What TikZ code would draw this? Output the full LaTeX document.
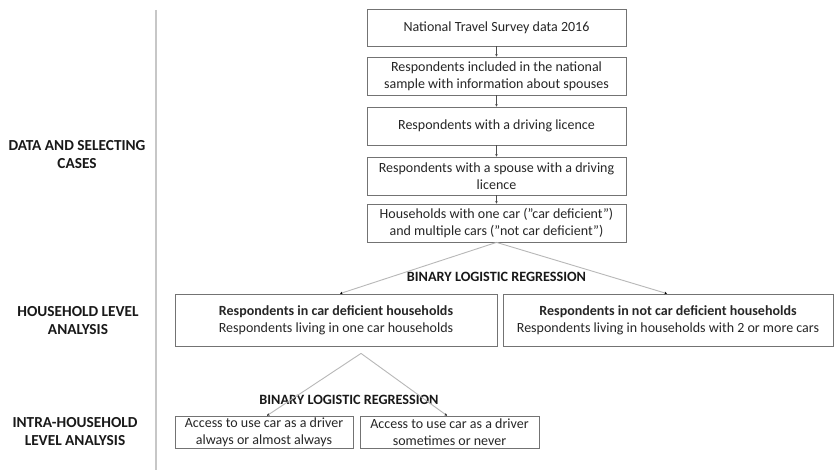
\documentclass[tikz,border=0pt]{standalone}
\usepackage{fontspec}
\setmainfont{Carlito}
\usetikzlibrary{arrows.meta}
\begin{document}
\begin{tikzpicture}[x=1pt,y=-1pt,
 box/.style={draw=black!55,line width=0.8pt,align=center,inner sep=1pt,font=\fontsize{14}{17}\selectfont,text=black!85},
 lab/.style={align=center,font=\fontsize{15.3}{18}\selectfont\bfseries,text=black!90},
 blr/.style={font=\fontsize{14.2}{15}\selectfont\bfseries,text=black!90,inner sep=0pt},
 flow/.style={draw=black!70,line width=0.5pt,-{Stealth[length=2.5pt,width=2.5pt]}},
 fan/.style={draw=black!28,line width=0.9pt,-{Stealth[length=2.5pt,width=2.5pt,color=black]}},
 sep/.style={draw=black!22,line width=1.6pt}]
\useasboundingbox (0,0) rectangle (834,470);
\fill[white] (0,0) rectangle (834,470);

% separator
\coordinate (vt) at (156,10);
\coordinate (vb) at (156,470);
\draw[sep] (vt) -- (vb);

% section labels
\node[lab] (l1) at (77,155) {DATA AND SELECTING\\CASES};
\node[lab] (l2) at (78,321) {HOUSEHOLD LEVEL\\ANALYSIS};
\node[lab] (l3) at (75,432) {INTRA-HOUSEHOLD\\LEVEL ANALYSIS};

% selection chain
\node[box,minimum width=259,minimum height=37] (n1) at (496.5,27.5) {National Travel Survey data 2016};
\node[box,minimum width=259,minimum height=38] (n2) at (496.5,76) {Respondents included in the national\\sample with information about spouses};
\node[box,minimum width=259,minimum height=38] (n3) at (496.5,126) {Respondents with a driving licence};
\node[box,minimum width=259,minimum height=38] (n4) at (496.5,176) {Respondents with a spouse with a driving\\licence};
\node[box,minimum width=259,minimum height=38] (n5) at (496.5,223) {Households with one car (”car deficient”)\\and multiple cars (”not car deficient”)};

\draw[flow] (n1) -- (n2);
\draw[flow] (n2) -- (n3);
\draw[flow] (n3) -- (n4);
\draw[flow] (n4) -- (n5);

% household level
\node[box,minimum width=322,minimum height=52] (ml) at (336,320) {\textbf{Respondents in car deficient households}\\Respondents living in one car households};
\node[box,minimum width=330,minimum height=52] (mr) at (668,320) {\textbf{Respondents in not car deficient households}\\Respondents living in households with 2 or more cars};
\node[blr] (r1) at (496.5,277) {BINARY LOGISTIC REGRESSION};

\draw[fan] (n5.south) -- ([xshift=4pt]ml.north);
\draw[fan] (n5.south) -- ([xshift=-1pt]mr.north);

% intra-household level
\node[box,minimum width=178,minimum height=32] (bl) at (264,432) {Access to use car as a driver\\always or almost always};
\node[box,minimum width=179,minimum height=32] (br) at (449.5,432) {Access to use car as a driver\\sometimes or never};
\node[blr] (r2) at (349,400) {BINARY LOGISTIC REGRESSION};

\coordinate (ap) at ([xshift=25pt,yshift=-7pt]ml.south);
\draw[fan] (ap) -- ([xshift=3pt]bl.north);
\draw[fan] (ap) -- ([xshift=-2.5pt]br.north);
\end{tikzpicture}
\end{document}
